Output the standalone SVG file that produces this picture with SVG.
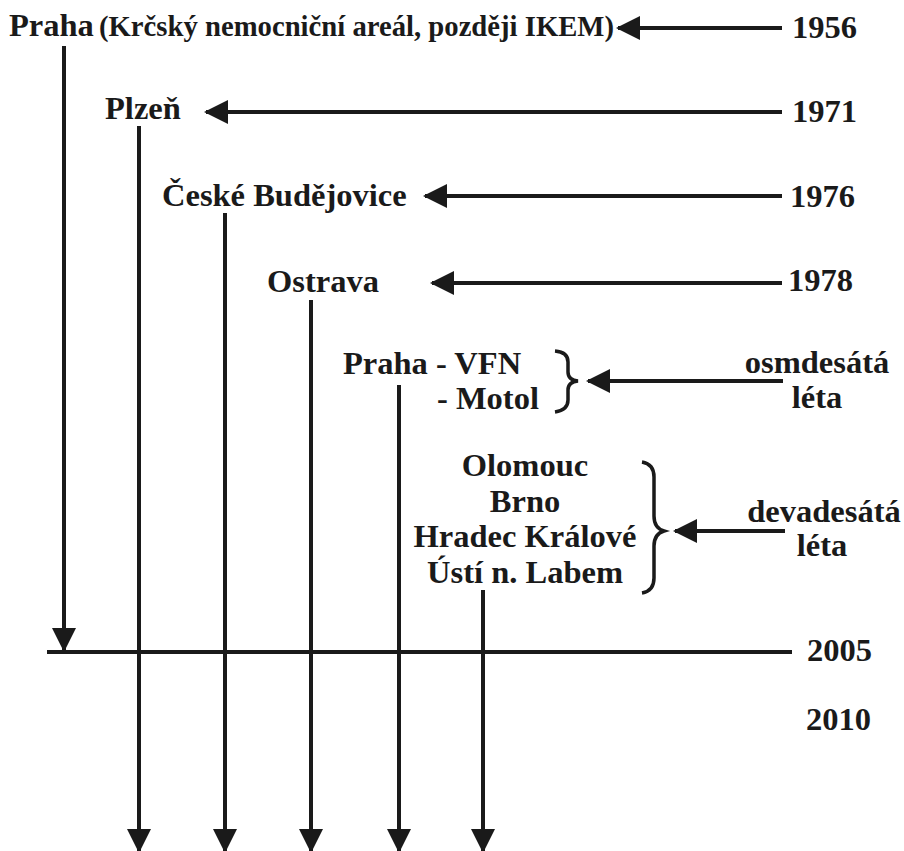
<svg xmlns="http://www.w3.org/2000/svg" width="904" height="851" viewBox="0 0 904 851">
<style>
text{font-family:"Liberation Serif","Times New Roman",serif;font-weight:bold;fill:#1a1a1a}
.big{font-size:32.5px}
.mid{font-size:28.7px}
.ln{stroke:#1a1a1a;stroke-width:4;fill:none}
.br{stroke:#1a1a1a;stroke-width:3.5;fill:none}
</style>
<defs>
<marker id="ah" viewBox="0 0 24 24" refX="22" refY="12" markerWidth="24" markerHeight="24" markerUnits="userSpaceOnUse" orient="auto">
<path d="M0,0 L24,12 L0,24 Z" fill="#1a1a1a"/>
</marker>
</defs>
<rect width="904" height="851" fill="#fff"/>
<g id="connectors">
<line class="ln" x1="64" y1="46" x2="64" y2="650" marker-end="url(#ah)"/>
<line class="ln" x1="139" y1="126" x2="139" y2="851" marker-end="url(#ah)"/>
<line class="ln" x1="225" y1="213" x2="225" y2="851" marker-end="url(#ah)"/>
<line class="ln" x1="311" y1="300" x2="311" y2="851" marker-end="url(#ah)"/>
<line class="ln" x1="399" y1="385" x2="399" y2="851" marker-end="url(#ah)"/>
<line class="ln" x1="483" y1="590" x2="483" y2="851" marker-end="url(#ah)"/>
<line class="ln" x1="47" y1="652" x2="792" y2="652"/>
<line class="ln" x1="782" y1="28" x2="618" y2="28" marker-end="url(#ah)"/>
<line class="ln" x1="782" y1="112" x2="206" y2="112" marker-end="url(#ah)"/>
<line class="ln" x1="782" y1="196" x2="425" y2="196" marker-end="url(#ah)"/>
<line class="ln" x1="782" y1="283" x2="432" y2="283" marker-end="url(#ah)"/>
<line class="ln" x1="783" y1="381" x2="588" y2="381" marker-end="url(#ah)"/>
<line class="ln" x1="785" y1="531" x2="675" y2="531" marker-end="url(#ah)"/>
</g>
<g id="praha">
<text class="big" x="9" y="36">Praha</text>
<text class="mid" x="99" y="36">(Krčský nemocniční areál, později IKEM)</text>
</g>
<g id="plzen"><text class="big" x="105" y="119">Plzeň</text></g>
<g id="budejovice"><text class="big" x="162" y="206">České Budějovice</text></g>
<g id="ostrava"><text class="big" x="267" y="292">Ostrava</text></g>
<g id="praha-vfn-motol">
<text class="big" x="343" y="374">Praha - VFN</text>
<text class="big" x="437" y="409">- Motol</text>
<path class="br" d="M555,351 Q568,352 568,362 L568,372 Q568,380 578,381 Q568,382 568,390 L568,400 Q568,410 555,412"/>
</g>
<g id="devadesata-mesta">
<text class="big" x="525" y="476" text-anchor="middle">Olomouc</text>
<text class="big" x="525" y="512" text-anchor="middle">Brno</text>
<text class="big" x="525" y="547" text-anchor="middle">Hradec Králové</text>
<text class="big" x="525" y="583" text-anchor="middle">Ústí n. Labem</text>
<path class="br" d="M642,462 Q654,464 654,477 L654,516 Q654,528 664,531 Q654,534 654,546 L654,578 Q654,591 642,593"/>
</g>
<g id="years">
<text class="big" x="792" y="38">1956</text>
<text class="big" x="792" y="122">1971</text>
<text class="big" x="790" y="207">1976</text>
<text class="big" x="788" y="291">1978</text>
<text class="big" x="817" y="373" text-anchor="middle">osmdesátá</text>
<text class="big" x="817" y="408" text-anchor="middle">léta</text>
<text class="big" x="824" y="522" text-anchor="middle">devadesátá</text>
<text class="big" x="822" y="556" text-anchor="middle">léta</text>
<text class="big" x="807" y="661">2005</text>
<text class="big" x="806" y="730">2010</text>
</g>
</svg>
